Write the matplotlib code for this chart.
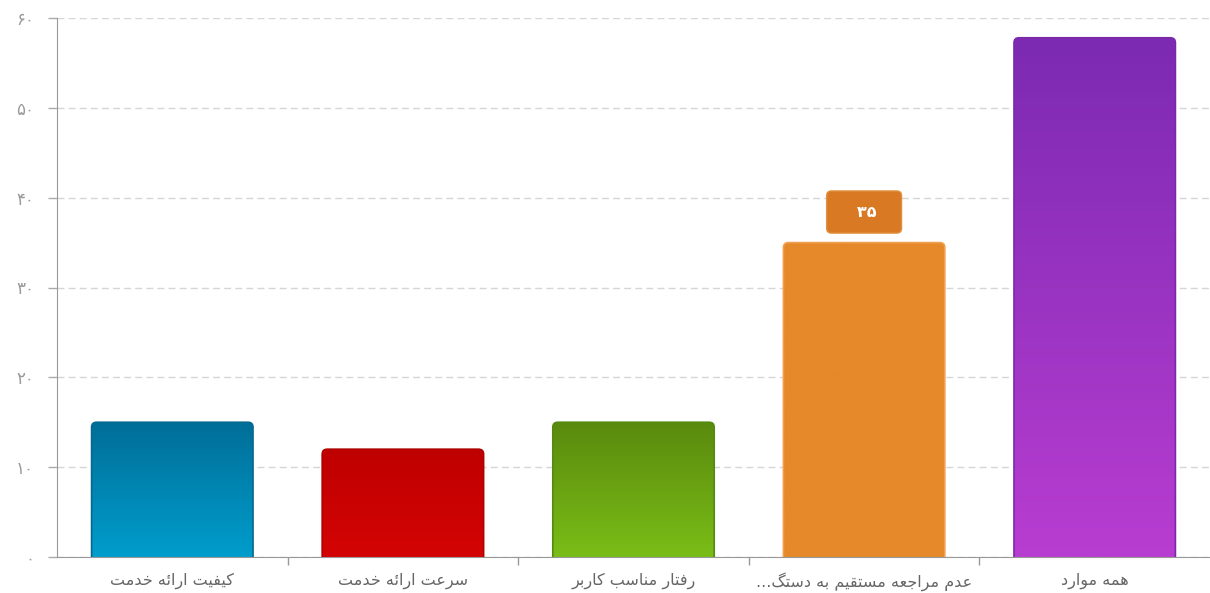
import matplotlib
matplotlib.use("Agg")
import matplotlib.pyplot as plt
import numpy as np
from matplotlib.patches import FancyBboxPatch
from matplotlib.colors import LinearSegmentedColormap

plt.rcParams['font.family'] = ['DejaVu Sans']

# data
categories = ["کیفیت ارائه خدمت", "سرعت ارائه خدمت", "رفتار مناسب کاربر",
              "عدم مراجعه مستقیم به دستگ...", "همه موارد"]
values = [15, 12, 15, 35, 57.8]
top_colors = ["#006e98", "#bf0000", "#5a8a0e", "#e5892a", "#7c2ab2"]
bottom_colors = ["#009dcc", "#d40404", "#7abd17", "#e5892a", "#b83dd1"]
edge_colors = ["#05688e", "#b00000", "#548a10", "#f0a050", "#7a2aa8"]
label_index = 3
y_ticks = [0, 10, 20, 30, 40, 50, 60]

# simple persian shaping (matplotlib has no arabic shaping / bidi)
FORMS = {
    'ا': ('\uFE8D', '\uFE8E', None, None),
    'ب': ('\uFE8F', '\uFE90', '\uFE91', '\uFE92'),
    'ت': ('\uFE95', '\uFE96', '\uFE97', '\uFE98'),
    'ج': ('\uFE9D', '\uFE9E', '\uFE9F', '\uFEA0'),
    'خ': ('\uFEA5', '\uFEA6', '\uFEA7', '\uFEA8'),
    'د': ('\uFEA9', '\uFEAA', None, None),
    'ر': ('\uFEAD', '\uFEAE', None, None),
    'س': ('\uFEB1', '\uFEB2', '\uFEB3', '\uFEB4'),
    'ع': ('\uFEC9', '\uFECA', '\uFECB', '\uFECC'),
    'ف': ('\uFED1', '\uFED2', '\uFED3', '\uFED4'),
    'ق': ('\uFED5', '\uFED6', '\uFED7', '\uFED8'),
    'م': ('\uFEE1', '\uFEE2', '\uFEE3', '\uFEE4'),
    'ن': ('\uFEE5', '\uFEE6', '\uFEE7', '\uFEE8'),
    'ه': ('\uFEE9', '\uFEEA', '\uFEEB', '\uFEEC'),
    'و': ('\uFEED', '\uFEEE', None, None),
    'ئ': ('\uFE89', '\uFE8A', '\uFE8B', '\uFE8C'),
    'ک': ('\uFB8E', '\uFB8F', '\uFB90', '\uFB91'),
    'گ': ('\uFB92', '\uFB93', '\uFB94', '\uFB95'),
    'ی': ('\uFBFC', '\uFBFD', '\uFBFE', '\uFBFF'),
}


def shape(text):
    out = []
    for i, c in enumerate(text):
        if c not in FORMS:
            out.append(c)
            continue
        prev = text[i - 1] if i > 0 else None
        nxt = text[i + 1] if i + 1 < len(text) else None
        iso, fin, ini, med = FORMS[c]
        jp = prev in FORMS and FORMS[prev][2] is not None
        jn = nxt in FORMS and ini is not None
        if jp and jn:
            out.append(med)
        elif jp:
            out.append(fin)
        elif jn:
            out.append(ini)
        else:
            out.append(iso)
    return ''.join(reversed(out))


def fa_digits(n):
    return ''.join(chr(0x06F0 + int(d)) for d in str(int(round(n))))


fig = plt.figure(figsize=(12.10, 5.93), dpi=100)
ax = fig.add_axes([57 / 1210, 36 / 593, 1153 / 1210, 539 / 593])

x = np.arange(len(categories))
width = 0.70

# rounding radius in px -> data units
px_x = 1.0 / 230.6
px_y = 60 / 539.0
r = 5 * px_x
aspect = px_y / px_x

grad = np.linspace(0, 1, 256).reshape(-1, 1)
for i, v in enumerate(values):
    cmap = LinearSegmentedColormap.from_list("g%d" % i, [bottom_colors[i], top_colors[i]])
    x0 = x[i] - width / 2
    patch = FancyBboxPatch((x0, -2), width, v + 2,
                           boxstyle="round,pad=0,rounding_size=%f" % r,
                           mutation_aspect=aspect,
                           facecolor="none", edgecolor=edge_colors[i], lw=1.2, zorder=3)
    ax.add_patch(patch)
    im = ax.imshow(grad, cmap=cmap, origin="lower", aspect="auto",
                   extent=[x0, x0 + width, 0, v], zorder=2, interpolation="bilinear")
    im.set_clip_path(patch)

ax.set_xlim(-0.5, len(categories) - 0.5)
ax.set_ylim(0, 60)

# value label
ax.annotate(fa_digits(values[label_index]).center(7),
            xy=(x[label_index], values[label_index]),
            xytext=(0, 22), textcoords="offset points",
            ha="center", va="center", color="white", fontsize=11.5, fontweight="bold",
            bbox=dict(boxstyle="round,pad=0.85,rounding_size=0.3", fc="#da7924", ec="#e0913f", lw=1),
            zorder=5)

# grid
ax.set_yticks(y_ticks)
ax.set_yticklabels([fa_digits(t) for t in y_ticks])
ax.yaxis.grid(True, color="#d6d6d6", linestyle=(0, (5, 3)), linewidth=1)
ax.set_axisbelow(True)

ax.set_xticks(x)
ax.set_xticklabels([shape(c) for c in categories])
ax.set_xticks(np.arange(0.5, len(categories) - 1, 1.0), minor=True)
ax.tick_params(axis="x", which="major", length=0, pad=11, labelsize=11.5, labelcolor="#666666")
ax.tick_params(axis="x", which="minor", length=6, width=1, color="#999999", direction="out")
ax.tick_params(axis="y", length=6.5, width=1, color="#aaaaaa", pad=10, labelsize=12, labelcolor="#9a9a9a")

for s in ["top", "right"]:
    ax.spines[s].set_visible(False)
ax.spines["left"].set_color("#999999")
ax.spines["bottom"].set_color("#999999")

fig.savefig("out.png", dpi=100)
